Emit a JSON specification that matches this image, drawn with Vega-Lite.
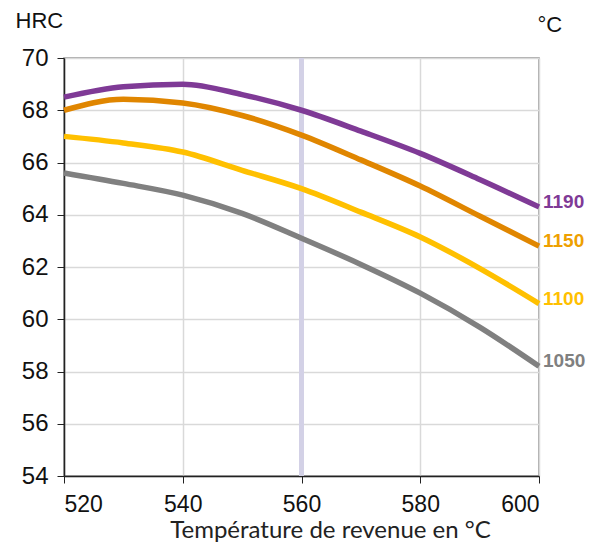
{
  "$schema": "https://vega.github.io/schema/vega-lite/v6.json",
  "width": 475,
  "height": 418,
  "autosize": {"type": "none"},
  "padding": {"left": 64, "top": 58, "right": 58, "bottom": 66},
  "background": "white",
  "config": {
    "view": {"stroke": "#8c8c8c", "strokeWidth": 1.5},
    "font": "Liberation Sans"
  },
  "datasets": {
    "curves": [
      {"temp": 520, "hrc": 68.5, "series": "1190"},
      {"temp": 530, "hrc": 68.9, "series": "1190"},
      {"temp": 540, "hrc": 69.0, "series": "1190"},
      {"temp": 550, "hrc": 68.6, "series": "1190"},
      {"temp": 560, "hrc": 68.0, "series": "1190"},
      {"temp": 570, "hrc": 67.2, "series": "1190"},
      {"temp": 580, "hrc": 66.35, "series": "1190"},
      {"temp": 590, "hrc": 65.35, "series": "1190"},
      {"temp": 600, "hrc": 64.3, "series": "1190"},
      {"temp": 520, "hrc": 68.0, "series": "1150"},
      {"temp": 530, "hrc": 68.42, "series": "1150"},
      {"temp": 540, "hrc": 68.28, "series": "1150"},
      {"temp": 550, "hrc": 67.8, "series": "1150"},
      {"temp": 560, "hrc": 67.05, "series": "1150"},
      {"temp": 570, "hrc": 66.1, "series": "1150"},
      {"temp": 580, "hrc": 65.1, "series": "1150"},
      {"temp": 590, "hrc": 63.95, "series": "1150"},
      {"temp": 600, "hrc": 62.8, "series": "1150"},
      {"temp": 520, "hrc": 67.0, "series": "1100"},
      {"temp": 530, "hrc": 66.75, "series": "1100"},
      {"temp": 540, "hrc": 66.4, "series": "1100"},
      {"temp": 550, "hrc": 65.7, "series": "1100"},
      {"temp": 560, "hrc": 65.0, "series": "1100"},
      {"temp": 570, "hrc": 64.1, "series": "1100"},
      {"temp": 580, "hrc": 63.15, "series": "1100"},
      {"temp": 590, "hrc": 61.95, "series": "1100"},
      {"temp": 600, "hrc": 60.6, "series": "1100"},
      {"temp": 520, "hrc": 65.6, "series": "1050"},
      {"temp": 530, "hrc": 65.2, "series": "1050"},
      {"temp": 540, "hrc": 64.75, "series": "1050"},
      {"temp": 550, "hrc": 64.05, "series": "1050"},
      {"temp": 560, "hrc": 63.1, "series": "1050"},
      {"temp": 570, "hrc": 62.1, "series": "1050"},
      {"temp": 580, "hrc": 61.0, "series": "1050"},
      {"temp": 590, "hrc": 59.7, "series": "1050"},
      {"temp": 600, "hrc": 58.2, "series": "1050"}
    ],
    "labels": [
      {"temp": 600, "hrc": 64.3, "series": "1190"},
      {"temp": 600, "hrc": 62.8, "series": "1150"},
      {"temp": 600, "hrc": 60.6, "series": "1100"},
      {"temp": 600, "hrc": 58.2, "series": "1050"}
    ],
    "marker": [{"temp": 560}]
  },
  "layer": [
    {
      "data": {"name": "marker"},
      "mark": {"type": "rule", "color": "#d3d1e6", "strokeWidth": 5},
      "encoding": {
        "x": {
          "field": "temp",
          "type": "quantitative",
          "scale": {"domain": [520, 600], "nice": false, "zero": false},
          "axis": {
            "values": [520, 540, 560, 580, 600],
            "title": "Température de revenue en °C",
            "titleFont": "Lato",
            "titleFontSize": 24,
            "titleFontWeight": "normal",
            "titleColor": "#222222",
            "titleAlign": "center",
            "titleBaseline": "alphabetic",
            "titleX": 266,
            "titleY": 61,
            "labelFont": "Liberation Sans",
            "labelFontSize": 23,
            "labelColor": "#111111",
            "labelPadding": 10,
            "tickSize": 7,
            "tickColor": "#222222",
            "domainColor": "#222222",
            "domainWidth": 1.5,
            "gridColor": "#d9d9d9",
            "gridWidth": 1.5
          }
        }
      }
    },
    {
      "data": {"name": "curves"},
      "mark": {"type": "line", "strokeWidth": 5.5, "interpolate": "monotone", "strokeCap": "butt"},
      "encoding": {
        "x": {"field": "temp", "type": "quantitative"},
        "y": {
          "field": "hrc",
          "type": "quantitative",
          "scale": {"domain": [54, 70], "nice": false, "zero": false},
          "axis": {
            "values": [54, 56, 58, 60, 62, 64, 66, 68, 70],
            "title": "HRC",
            "titleAngle": 0,
            "titleAlign": "left",
            "titleBaseline": "middle",
            "titleX": -49,
            "titleY": -38,
            "titleFont": "Liberation Sans",
            "titleFontSize": 22,
            "titleFontWeight": "normal",
            "titleColor": "#111111",
            "labelFont": "Liberation Sans",
            "labelFontSize": 24,
            "labelColor": "#111111",
            "labelPadding": 9,
            "tickSize": 7,
            "tickColor": "#222222",
            "domainColor": "#222222",
            "domainWidth": 1.5,
            "gridColor": "#d9d9d9",
            "gridWidth": 1.5
          }
        },
        "color": {
          "field": "series",
          "type": "nominal",
          "scale": {"domain": ["1190", "1150", "1100", "1050"], "range": ["#7f3a96", "#e08600", "#ffc000", "#808080"]},
          "legend": null
        },
        "detail": {"field": "series"}
      }
    },
    {
      "data": {"name": "labels"},
      "mark": {"type": "text", "align": "left", "baseline": "middle", "dx": 4, "dy": -5, "fontSize": 19, "fontWeight": "bold", "font": "Liberation Sans"},
      "encoding": {
        "x": {"field": "temp", "type": "quantitative"},
        "y": {
          "field": "hrc",
          "type": "quantitative",
          "axis": {
            "orient": "right",
            "labels": false,
            "ticks": false,
            "domain": false,
            "grid": false,
            "title": "°C",
            "titleAngle": 0,
            "titleAlign": "left",
            "titleBaseline": "middle",
            "titleX": -2,
            "titleY": -34,
            "titleFont": "Liberation Sans",
            "titleFontSize": 22,
            "titleFontWeight": "normal",
            "titleColor": "#111111"
          }
        },
        "text": {"field": "series"},
        "color": {
          "field": "series",
          "type": "nominal",
          "scale": {"domain": ["1190", "1150", "1100", "1050"], "range": ["#7f3a96", "#eea000", "#ffc000", "#808080"]},
          "legend": null
        }
      }
    }
  ],
  "resolve": {"axis": {"y": "independent"}, "scale": {"color": "independent"}}
}
